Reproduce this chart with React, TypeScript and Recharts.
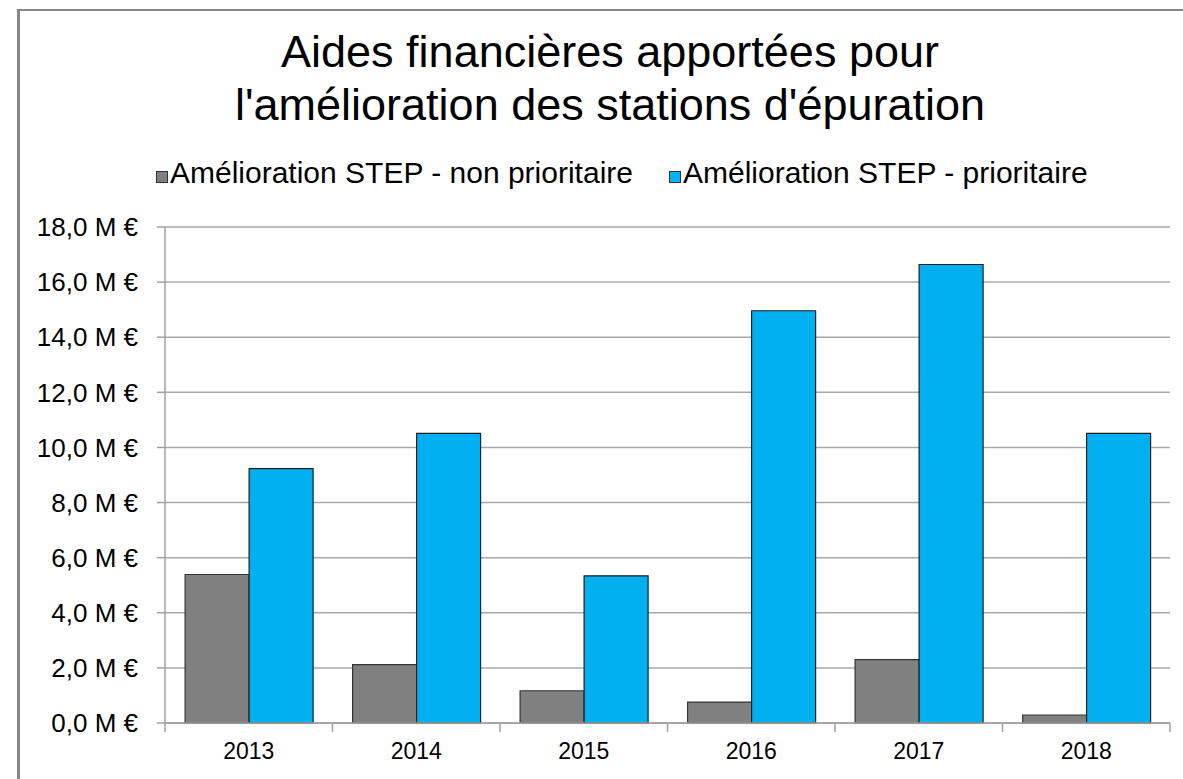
import React from "react";
import { BarChart, Bar, XAxis, YAxis, CartesianGrid, Legend } from "recharts";

const years = ["2013", "2014", "2015", "2016", "2017", "2018"];
const nonPrioritaire = [5.39, 2.12, 1.17, 0.76, 2.3, 0.29];
const prioritaire = [9.23, 10.51, 5.34, 14.96, 16.64, 10.51];
const yTicks = [0, 2, 4, 6, 8, 10, 12, 14, 16, 18];
const seriesNames = ["Amélioration STEP - non prioritaire", "Amélioration STEP - prioritaire"];
const titleLines = ["Aides financières apportées pour", "l'amélioration des stations d'épuration"];

const data = years.map((y, i) => ({
  year: y,
  non: nonPrioritaire[i],
  prio: prioritaire[i],
}));

const W = 1183;
const H = 779;
const MARGIN = { top: 227, right: 13, bottom: 0, left: 20 };
const YAXIS_W = 145;
const X_TICK_SIZE = 8;
const X_TICK_MARGIN = 12;
const FONT = "'Liberation Sans', Arial, sans-serif";
const AXIS_COLOR = "#a0a0a0";

const fmt = (v: number) => `${v.toFixed(1).replace(".", ",")} M €`;

const XTick = (props: any) => {
  const { x, y, payload, index, width, visibleTicksCount } = props;
  const count = visibleTicksCount || years.length;
  const plotW =
    typeof width === "number" && width > 0 ? width : W - MARGIN.left - MARGIN.right - YAXIS_W;
  const band = plotW / count;
  const axisY = y - X_TICK_SIZE - X_TICK_MARGIN;
  const isLast = index === count - 1;
  return (
    <g>
      <line
        x1={x - band / 2}
        x2={x - band / 2}
        y1={axisY}
        y2={axisY + 9}
        stroke={AXIS_COLOR}
        strokeWidth={1.5}
      />
      {isLast && (
        <line
          x1={x + band / 2}
          x2={x + band / 2}
          y1={axisY}
          y2={axisY + 9}
          stroke={AXIS_COLOR}
          strokeWidth={1.5}
        />
      )}
      <text
        x={x}
        y={y}
        dy="0.71em"
        textAnchor="middle"
        fontSize={23}
        fontFamily={FONT}
        fill="#000"
      >
        {payload.value}
      </text>
    </g>
  );
};

const legendColors = ["#808080", "#00B0F0"];

const LegendContent = () => (
  <div style={{ fontFamily: FONT, fontSize: 30, lineHeight: "34px", whiteSpace: "nowrap", color: "#000" }}>
    {seriesNames.map((n, i) => (
      <span key={n} style={{ marginRight: i === 0 ? 36 : 0 }}>
        <span
          style={{
            display: "inline-block",
            width: 10,
            height: 10,
            background: legendColors[i],
            border: "1px solid #333",
            marginRight: 2,
          }}
        />
        {n}
      </span>
    ))}
  </div>
);

export default function App() {
  return (
    <div
      style={{
        position: "absolute",
        left: 0,
        top: 0,
        width: W,
        height: H,
        overflow: "hidden",
        background: "#fff",
      }}
    >
      <div
        style={{
          position: "absolute",
          left: 17,
          top: 9,
          width: 1400,
          height: 1000,
          borderLeft: "3px solid #878787",
          borderTop: "2px solid #878787",
        }}
      />
      <div
        style={{
          position: "absolute",
          left: 10,
          top: 25,
          width: 1200,
          textAlign: "center",
          fontFamily: FONT,
          fontSize: 45,
          lineHeight: "53px",
          color: "#000",
        }}
      >
        {titleLines.map((l) => (
          <div key={l}>{l}</div>
        ))}
      </div>
      <div style={{ position: "absolute", left: 0, top: 0 }}>
        <BarChart width={W} height={H} data={data} margin={MARGIN} barCategoryGap="12%" barGap={0}>
          <CartesianGrid vertical={false} stroke="#a8a8a8" strokeWidth={1.5} />
          <XAxis
            dataKey="year"
            height={56}
            tickLine={false}
            axisLine={{ stroke: AXIS_COLOR, strokeWidth: 1.5 }}
            tickSize={X_TICK_SIZE}
            tickMargin={X_TICK_MARGIN}
            interval={0}
            tick={<XTick />}
          />
          <YAxis
            width={YAXIS_W}
            domain={[0, 18]}
            ticks={yTicks}
            interval={0}
            tickFormatter={fmt}
            tickSize={8}
            tickMargin={19}
            axisLine={{ stroke: AXIS_COLOR, strokeWidth: 1.5 }}
            tickLine={{ stroke: AXIS_COLOR, strokeWidth: 1.5 }}
            tick={{ fontSize: 26, fontFamily: FONT, fill: "#000" }}
          />
          <Legend
            verticalAlign="middle"
            align="center"
            layout="horizontal"
            wrapperStyle={{ top: 156, left: 156, width: "auto" }}
            content={<LegendContent />}
          />
          <Bar
            dataKey="non"
            name={seriesNames[0]}
            fill="#808080"
            stroke="#333"
            strokeWidth={1.2}
            isAnimationActive={false}
          />
          <Bar
            dataKey="prio"
            name={seriesNames[1]}
            fill="#00B0F0"
            stroke="#1f1f1f"
            strokeWidth={1.2}
            isAnimationActive={false}
          />
        </BarChart>
      </div>
    </div>
  );
}
